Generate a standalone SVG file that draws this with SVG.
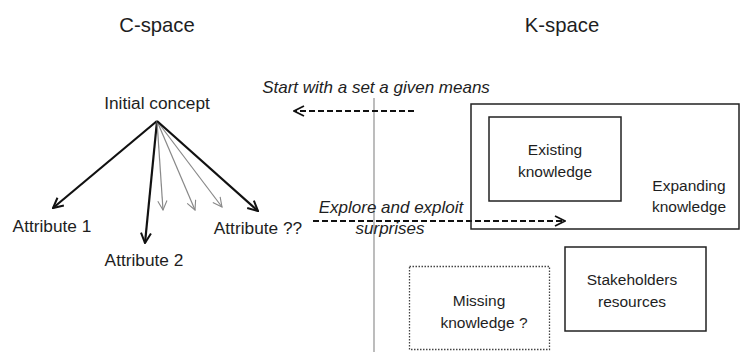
<svg xmlns="http://www.w3.org/2000/svg" width="747" height="352" viewBox="0 0 747 352">
<style>
text{font-family:"Liberation Sans",Arial,sans-serif;font-size:17.3px;fill:#1e1e1e;text-anchor:middle;dominant-baseline:central}
.title{font-size:20.3px}
.it{font-style:italic;font-size:17px}
.bx{font-size:15.5px}
.box{fill:none;stroke:#222;stroke-width:1.5}
.blk{stroke:#111;stroke-width:2.2;fill:none}
.gry{stroke:#888;stroke-width:1.2;fill:none}
.dash{stroke:#111;stroke-width:1.8;stroke-dasharray:6 3;fill:none}
</style>
<defs>
<marker id="ab" viewBox="0 0 12 12" refX="11" refY="6" markerWidth="12" markerHeight="12" markerUnits="userSpaceOnUse" orient="auto"><path d="M1,1 L11,6 L1,11" fill="none" stroke="#111" stroke-width="2"/></marker>
<marker id="ag" viewBox="0 0 12 12" refX="11" refY="6" markerWidth="11" markerHeight="11" markerUnits="userSpaceOnUse" orient="auto"><path d="M1,1 L11,6 L1,11" fill="none" stroke="#888" stroke-width="1.2"/></marker>
<marker id="ad" viewBox="0 0 12 12" refX="11" refY="6" markerWidth="12" markerHeight="12" markerUnits="userSpaceOnUse" orient="auto"><path d="M1,1 L11,6 L1,11" fill="none" stroke="#111" stroke-width="1.8"/></marker>
</defs>
<rect width="747" height="352" fill="#fff"/>
<text class="title" x="157" y="25">C-space</text>
<text class="title" x="562" y="25">K-space</text>
<line x1="374" y1="98" x2="374" y2="352" stroke="#999" stroke-width="1.3"/>
<g id="connectors">
<line class="blk" x1="157" y1="121" x2="53" y2="208" marker-end="url(#ab)"/>
<line class="blk" x1="157" y1="121" x2="145" y2="243" marker-end="url(#ab)"/>
<line class="gry" x1="157" y1="121" x2="163" y2="210" marker-end="url(#ag)"/>
<line class="gry" x1="157" y1="121" x2="195" y2="210" marker-end="url(#ag)"/>
<line class="gry" x1="157" y1="121" x2="222" y2="207" marker-end="url(#ag)"/>
<line class="blk" x1="157" y1="121" x2="258" y2="211" marker-end="url(#ab)"/>
<line class="dash" x1="414" y1="111" x2="294" y2="111" marker-end="url(#ad)"/>
<line class="dash" x1="313" y1="221" x2="565" y2="221" marker-end="url(#ad)"/>
</g>
<g id="initial"><text x="157" y="103">Initial concept</text></g>
<g id="attr1"><text x="52" y="225.5">Attribute 1</text></g>
<g id="attr2"><text x="144" y="260">Attribute 2</text></g>
<g id="attr3"><text x="258" y="228">Attribute ??</text></g>
<g id="start"><text class="it" x="376" y="87">Start with a set a given means</text></g>
<g id="explore"><text class="it" x="391" y="207.5">Explore and exploit</text><text class="it" x="390" y="228">surprises</text></g>
<g id="expanding"><rect class="box" x="471" y="104" width="268" height="125"/><text class="bx" x="689" y="185">Expanding</text><text class="bx" x="689" y="206">knowledge</text></g>
<g id="existing"><rect class="box" x="489" y="117" width="132" height="84"/><text class="bx" x="555" y="149">Existing</text><text class="bx" x="555" y="171">knowledge</text></g>
<g id="missing"><rect x="409.5" y="266.5" width="140" height="83" fill="none" stroke="#444" stroke-width="1.3" stroke-dasharray="1.5 1.5"/><text class="bx" x="479" y="300">Missing</text><text class="bx" x="484" y="322">knowledge ?</text></g>
<g id="stakeholders"><rect class="box" x="565" y="247" width="141" height="84"/><text class="bx" x="632" y="279">Stakeholders</text><text class="bx" x="632" y="301">resources</text></g>
</svg>
